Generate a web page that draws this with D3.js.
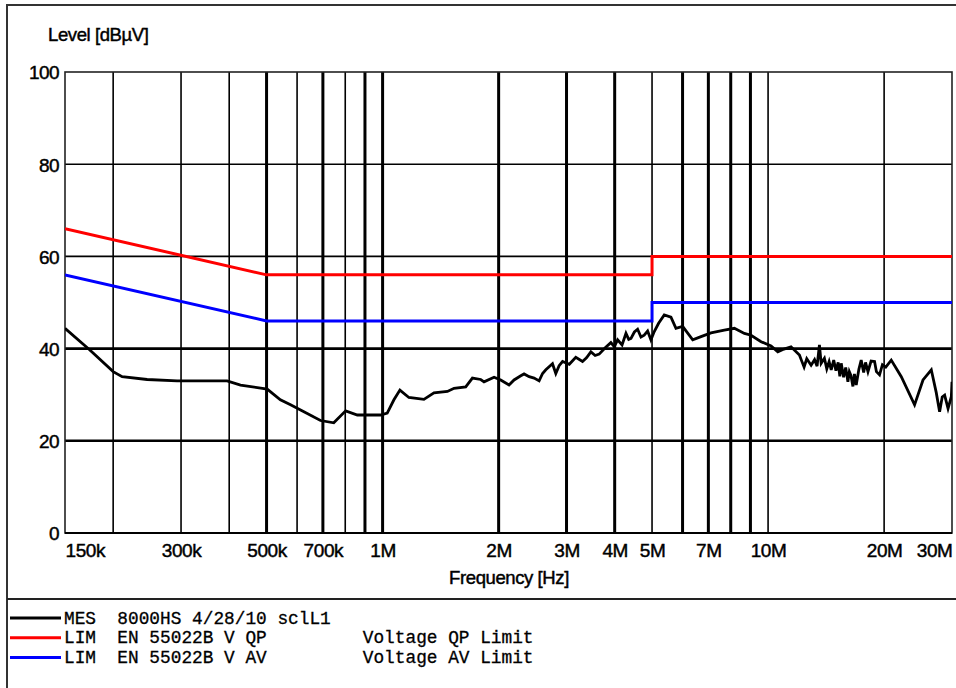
<!DOCTYPE html>
<html><head><meta charset="utf-8">
<script src="https://cdn.jsdelivr.net/npm/d3@7"></script>
<style>
html,body{margin:0;padding:0;background:#fff;}
svg{display:block;}
text{font-family:"Liberation Sans",Arial,sans-serif;fill:#000;}
.sans{stroke:#000;stroke-width:0.45px;}
.mono{font-family:"Liberation Mono","Courier New",monospace;white-space:pre;stroke:#000;stroke-width:0.3px;}
</style></head>
<body>
<svg id="chart" width="956" height="688"></svg>
<script>
// ---- data ----
const xTickValues = [0.15, 0.3, 0.5, 0.7, 1, 2, 3, 4, 5, 7, 10, 20, 30]; // MHz
const xTickLabels = ["150k","300k","500k","700k","1M","2M","3M","4M","5M","7M","10M","20M","30M"];
const xGridValues = [0.2,0.3,0.4,0.5,0.6,0.7,0.8,0.9,1,2,3,4,5,6,7,8,9,10,20];
const yTickValues = [0, 20, 40, 60, 80, 100];
const yTickLabels = ["0","20","40","60","80","100"];

const qpFreq  = [0.15, 0.5, 5, 5, 30];
const qpLevel = [66, 56, 56, 60, 60];
const avFreq  = [0.15, 0.5, 5, 5, 30];
const avLevel = [56, 46, 46, 50, 50];

const mesFreq = [0.150,0.174,0.200,0.211,0.245,0.293,0.395,0.428,0.502,0.543,0.577,0.625,0.690,0.747,0.802,0.860,0.988,
  1.028,1.070,1.109,1.170,1.280,1.359,1.473,1.532,1.643,1.710,1.797,1.833,1.946,2.025,2.128,2.193,2.283,2.328,2.40,2.472,2.547,
  2.60,2.651,2.759,2.814,2.87,2.930,3.05,3.171,3.301,3.38,3.470,3.56,3.646,3.78,3.910,3.99,4.071,4.180,4.279,4.35,4.409,4.500,4.587,4.680,4.771,4.870,4.967,5.067,
  5.2,5.378,5.598,5.768,6.003,6.375,6.699,7.112,7.700,8.176,8.680,9.033,9.590,10.18,10.60,11.0,11.47,12.06,12.2,12.4,12.6,12.93,13.2,
  13.4,13.59,13.73,14.0,14.2,14.4,14.58,14.8,15.0,15.2,15.35,15.48,15.7,15.9,16.11,16.25,16.4,16.6,16.75,16.93,17.2,17.44,17.7,17.9,18.16,18.5,
  18.89,19.1,19.46,19.8,20.2,20.87,22.16,23.99,25.23,26.51,27.3,27.86,28.3,28.71,29.3,29.88,30.0];
const mesLevel = [44.4,39.7,35.0,33.9,33.3,33.0,33.0,32.1,31.2,28.9,27.8,26.3,24.4,23.9,26.5,25.6,25.6,
  26.0,28.9,31.0,29.4,29.0,30.4,30.7,31.4,31.7,33.6,33.3,32.8,33.8,33.2,32.1,33.2,34.1,34.5,33.9,33.6,33.0,
  34.6,35.4,36.7,34.6,36.3,37.2,36.6,38.1,37.2,38.0,39.3,38.5,38.8,40.2,41.3,40.4,41.9,40.8,43.3,42.0,42.2,43.6,44.2,42.5,42.9,43.8,41.9,43.7,
  45.5,47.3,46.8,44.4,44.8,41.9,42.6,43.4,44.0,44.4,43.3,42.9,41.5,40.6,39.3,39.9,40.4,38.6,37.5,36.0,37.8,36.4,37.6,
  36.2,40.8,36.8,37.9,35.6,37.2,35.4,37.5,35.2,37.0,34.0,36.8,33.8,35.9,32.8,35.0,34.2,31.8,34.5,32.1,35.5,37.5,34.8,37.0,35.0,37.3,
  37.2,35.0,34.3,36.5,36.0,37.5,33.9,27.8,33.2,35.4,30.5,26.3,29.5,29.9,27.0,29.6,32.8];

const legendRows = [
  {color:"#000000", text:"MES  8000HS 4/28/10 sclL1"},
  {color:"#ff0000", text:"LIM  EN 55022B V QP         Voltage QP Limit"},
  {color:"#0000ff", text:"LIM  EN 55022B V AV         Voltage AV Limit"}
];

// ---- layout / style ----
const heavyGrid = new Set([0.5,0.7,0.9,1,2,3,4,6,7,8,9]);
const svg = d3.select("#chart");
const x = d3.scaleLog().domain([0.15, 30]).range([65, 952]);
const y = d3.scaleLinear().domain([0, 100]).range([533, 72]);

// outer frame
svg.append("rect").attr("x",7).attr("y",5).attr("width",960).attr("height",700)
  .attr("fill","none").attr("stroke","#333").attr("stroke-width",2);
svg.append("line").attr("x1",7).attr("x2",956).attr("y1",599).attr("y2",599)
  .attr("stroke","#222").attr("stroke-width",2);

// horizontal grid
svg.append("g").selectAll("line").data(yTickValues.filter(v=>v>0 && v<100)).join("line")
  .attr("x1",x.range()[0]).attr("x2",x.range()[1])
  .attr("y1",d=>y(d)).attr("y2",d=>y(d))
  .attr("stroke","#000").attr("stroke-width",d=>d<=40?2.6:1.6);

// vertical grid
svg.append("g").selectAll("line").data(xGridValues).join("line")
  .attr("x1",d=>x(d)).attr("x2",d=>x(d))
  .attr("y1",y(100)).attr("y2",y(0))
  .attr("stroke","#000").attr("stroke-width",d=>heavyGrid.has(d)?3:1.6);

// plot frame
svg.append("rect").attr("x",x.range()[0]).attr("y",y(100))
  .attr("width",x.range()[1]-x.range()[0]).attr("height",y(0)-y(100))
  .attr("fill","none").attr("stroke","#222").attr("stroke-width",1.6);
svg.append("line").attr("x1",x.range()[0]).attr("x2",x.range()[1]).attr("y1",y(0)).attr("y2",y(0))
  .attr("stroke","#000").attr("stroke-width",2.2);

// axes labels using d3 axes (no domain/ticks lines)
const xAxis = d3.axisBottom(x).tickValues(xTickValues).tickSize(0).tickPadding(0)
  .tickFormat((d,i)=>xTickLabels[i]);
const gx = svg.append("g").attr("transform",`translate(0,${y(0)+10})`).call(xAxis);
gx.select(".domain").remove();
gx.selectAll("text").attr("class","sans").attr("font-size",19).attr("font-family","Liberation Sans, Arial, sans-serif")
  .attr("fill","#000").attr("dy","0.71em").attr("letter-spacing","-0.4")
  .attr("text-anchor",(d,i)=> i===0?"start":(i===xTickValues.length-1?"end":"middle"));

const yAxis = d3.axisLeft(y).tickValues(yTickValues).tickSize(0).tickPadding(6)
  .tickFormat((d,i)=>yTickLabels[i]);
const gy = svg.append("g").attr("transform",`translate(${x.range()[0]},0)`).call(yAxis);
gy.select(".domain").remove();
gy.selectAll("text").attr("class","sans").attr("font-size",19).attr("font-family","Liberation Sans, Arial, sans-serif")
  .attr("fill","#000").attr("dy","0.36em").attr("letter-spacing","-0.6");

svg.append("text").attr("class","sans").attr("x",48).attr("y",41).attr("font-size",18.5).attr("letter-spacing","-0.4").text("Level [dBµV]");
svg.append("text").attr("class","sans").attr("x",509).attr("y",584).attr("text-anchor","middle").attr("font-size",18.5)
  .attr("letter-spacing","-0.4").text("Frequency [Hz]");

// series
const line = d3.line().x(d=>x(d[0])).y(d=>y(d[1]));
svg.append("clipPath").attr("id","pc").append("rect")
  .attr("x",x.range()[0]).attr("y",y(100)).attr("width",x.range()[1]-x.range()[0]).attr("height",y(0)-y(100));
const series = [
  {f:mesFreq, v:mesLevel, color:"#000", w:2.8},
  {f:qpFreq, v:qpLevel, color:"#ff0000", w:3},
  {f:avFreq, v:avLevel, color:"#0000ff", w:3}
];
svg.append("g").attr("clip-path","url(#pc)").selectAll("path").data(series).join("path")
  .attr("d",s=>line(s.f.map((f,i)=>[f,s.v[i]])))
  .attr("fill","none").attr("stroke",s=>s.color).attr("stroke-width",s=>s.w)
  .attr("stroke-linejoin","miter");

// legend
const lg = svg.append("g");
legendRows.forEach((r,i)=>{
  const yy = 618 + i*19.7;
  lg.append("line").attr("x1",10).attr("x2",61).attr("y1",yy).attr("y2",yy)
    .attr("stroke",r.color).attr("stroke-width",3);
  lg.append("text").attr("class","mono").attr("x",64).attr("y",yy+5.5)
    .attr("font-size",17.8).text(r.text);
});
</script>
</body></html>
